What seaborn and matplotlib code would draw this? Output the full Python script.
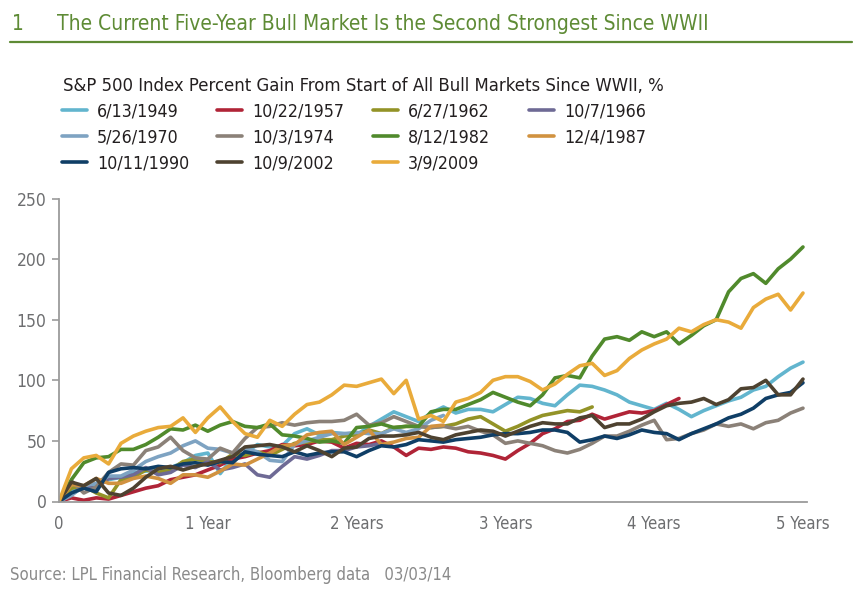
import numpy as np
import pandas as pd
import matplotlib
matplotlib.use("Agg")
import matplotlib.pyplot as plt
import seaborn as sns

# ---------------- data (percent gain, sampled monthly from start of each bull market) -------------
labels = ["6/13/1949", "10/22/1957", "6/27/1962", "10/7/1966", "5/26/1970", "10/3/1974",
          "8/12/1982", "12/4/1987", "10/11/1990", "10/9/2002", "3/9/2009"]
colors = ["#62B5CE", "#B02437", "#939327", "#6E6A95", "#7EA3C2", "#8B8178",
          "#508A2C", "#D19240", "#0F3E66", "#4E4230", "#E9AB3B"]

bull_1949 = [0, 9, 12, 14, 18, 20, 24, 25, 27, 28, 32, 38, 40, 23, 36, 40, 47, 45, 46, 56,
             60, 55, 57, 56, 55, 62, 68, 74, 70, 66, 73, 78, 73, 76, 76, 74, 80, 86, 85, 81,
             79, 88, 96, 95, 92, 88, 82, 79, 76, 81, 76, 70, 75, 79, 83, 86, 92, 95, 103, 110, 115]
bull_1957 = [0, 3, 1, 3, 2, 5, 8, 11, 13, 18, 20, 22, 26, 30, 35, 37, 40, 42, 47, 46,
             47, 50, 49, 44, 48, 47, 50, 45, 38, 44, 43, 45, 44, 41, 40, 38, 35, 42, 48, 56,
             60, 66, 67, 72, 68, 71, 74, 73, 75, 80, 85]
bull_1962 = [0, 11, 13, 7, 3, 18, 20, 26, 24, 26, 33, 35, 33, 32, 39, 38, 41, 38, 43, 48,
             49, 51, 51, 54, 55, 59, 56, 61, 62, 62, 61, 62, 64, 68, 70, 64, 58, 62, 67, 71,
             73, 75, 74, 78]
bull_1966 = [0, 6, 12, 11, 19, 20, 22, 28, 22, 24, 30, 28, 33, 26, 28, 31, 22, 20, 29, 37,
             35, 38, 42, 42, 45, 46, 48]
bull_1970 = [0, 5, 13, 15, 21, 21, 26, 33, 37, 40, 46, 50, 44, 43, 40, 44, 41, 34, 33, 47,
             50, 53, 56, 56, 57, 56, 56, 60, 57, 60, 67, 71]
bull_1974 = [0, 17, 7, 12, 24, 31, 30, 42, 45, 53, 42, 36, 35, 44, 40, 52, 61, 62, 65, 63,
             65, 66, 66, 67, 72, 63, 65, 70, 66, 62, 61, 62, 60, 62, 58, 55, 48, 50, 48, 46,
             42, 40, 43, 48, 54, 54, 58, 63, 67, 51, 52, 56, 59, 64, 62, 64, 60, 65, 67, 73, 77]
bull_1982 = [0, 18, 32, 36, 37, 43, 43, 47, 53, 60, 59, 63, 58, 63, 66, 62, 61, 64, 55, 54,
             52, 49, 50, 48, 61, 62, 64, 61, 62, 62, 74, 76, 76, 80, 84, 90, 86, 82, 79, 88,
             102, 104, 102, 120, 134, 136, 133, 140, 136, 140, 130, 137, 145, 150, 173, 184,
             188, 180, 192, 200, 210]
bull_1987 = [0, 14, 13, 19, 15, 15, 19, 21, 19, 15, 22, 22, 20, 25, 31, 30, 35, 40, 46, 47,
             55, 57, 58, 47, 53, 59, 47, 49, 52, 53, 62, 63]
bull_1990 = [0, 7, 11, 8, 24, 27, 28, 27, 29, 28, 31, 32, 30, 33, 32, 41, 39, 38, 37, 41,
             38, 40, 41, 41, 37, 42, 46, 45, 47, 51, 50, 49, 51, 52, 53, 55, 56, 56, 57, 59,
             59, 57, 49, 51, 54, 52, 55, 59, 57, 56, 51, 56, 60, 64, 69, 72, 77, 85, 88, 90, 98]
bull_2002 = [0, 16, 13, 19, 7, 5, 11, 20, 27, 29, 26, 29, 31, 34, 37, 45, 46, 47, 45, 41,
             46, 42, 37, 44, 45, 52, 54, 54, 55, 57, 53, 51, 55, 57, 59, 58, 54, 58, 62, 65,
             64, 64, 69, 71, 61, 64, 64, 68, 74, 79, 81, 82, 85, 80, 84, 93, 94, 100, 88, 88, 101]
bull_2009 = [0, 27, 36, 38, 31, 48, 54, 58, 61, 62, 69, 57, 69, 78, 66, 56, 53, 67, 62, 72,
             80, 82, 88, 96, 95, 98, 101, 89, 100, 68, 71, 66, 82, 85, 90, 100, 103, 103, 99, 92,
             97, 105, 112, 114, 104, 108, 118, 125, 130, 134, 143, 140, 146, 150, 148, 143, 160,
             167, 171, 158, 172]

series_values = [bull_1949, bull_1957, bull_1962, bull_1966, bull_1970, bull_1974,
                 bull_1982, bull_1987, bull_1990, bull_2002, bull_2009]

y_ticks = [0, 50, 100, 150, 200, 250]
x_ticks = [0, 1, 2, 3, 4, 5]
x_tick_labels = ["0", "1 Year", "2 Years", "3 Years", "4 Years", "5 Years"]

title_text = "The Current Five-Year Bull Market Is the Second Strongest Since WWII"
subtitle_text = "S&P 500 Index Percent Gain From Start of All Bull Markets Since WWII, %"
source_text = "Source: LPL Financial Research, Bloomberg data   03/03/14"

# ---------------- long table ----------------
rows = []
for lab, vals in zip(labels, series_values):
    for m, v in enumerate(vals):
        rows.append({"series": lab, "years": m / 12.0, "gain": v})
df = pd.DataFrame(rows)

# ---------------- style ----------------
sns.set_style("white")
plt.rcParams["font.family"] = ["DejaVu Sans"]
plt.rcParams["font.stretch"] = "condensed"

W, H = 854, 597
fig = plt.figure(figsize=(W / 100, H / 100), dpi=100)
fig.patch.set_facecolor("white")

ax = fig.add_axes([59 / W, 1 - 501.5 / H, (807 - 59) / W, (501.5 - 198.5) / H])

sns.lineplot(data=df, x="years", y="gain", hue="series", hue_order=labels,
             palette=dict(zip(labels, colors)), linewidth=2.6, estimator=None,
             errorbar=None, sort=True, ax=ax, legend=True)

handles, labs = ax.get_legend_handles_labels()
ax.get_legend().remove()
hmap = dict(zip(labs, handles))

ax.set_xlim(0, 5.027)
ax.set_ylim(0, 250)
ax.set_xticks(x_ticks)
ax.set_xticklabels(x_tick_labels)
ax.set_yticks(y_ticks)
ax.set_xlabel("")
ax.set_ylabel("")

axis_gray = "#9B9B9B"
label_gray = "#6D6E70"
for side in ["top", "right"]:
    ax.spines[side].set_visible(False)
for side in ["left", "bottom"]:
    ax.spines[side].set_color(axis_gray)
    ax.spines[side].set_linewidth(1.3)
ax.tick_params(axis="y", length=5, width=1.2, color=axis_gray, labelcolor=label_gray,
               labelsize=12.5, pad=4, direction="out", left=True)
ax.tick_params(axis="x", length=0, labelcolor=label_gray, labelsize=12, pad=10)
ax.grid(False)

# ---------------- titles ----------------
olive = "#5E8B35"
fig.text(12 / W, 1 - 24 / H, "1", color=olive, fontsize=15, va="center", ha="left")
fig.text(57 / W, 1 - 24 / H, title_text, color=olive, fontsize=15, va="center", ha="left")
fig.add_artist(plt.Line2D([10 / W, 852 / W], [1 - 42 / H, 1 - 42 / H], color=olive,
                          linewidth=1.6, transform=fig.transFigure))
fig.text(63 / W, 1 - 86 / H, subtitle_text, color="#231F20", fontsize=13.2,
         va="center", ha="left")
fig.text(10 / W, 1 - 575 / H, source_text, color="#8A8A8A", fontsize=12,
         va="center", ha="left")

# ---------------- legend: four columns, filled row by row ----------------
ncol = 4
col_x = [62, 217, 373, 529]
row_y = [111.7, 137.7, 163.7]
for c in range(ncol):
    col_labels = labels[c::ncol]
    nrows = len(col_labels)
    yc = (row_y[0] + row_y[nrows - 1]) / 2
    leg = fig.legend([hmap[l] for l in col_labels], col_labels, loc="center left",
                     bbox_to_anchor=(col_x[c] / W, 1 - yc / H), frameon=False,
                     fontsize=12.8, handlelength=1.4, handletextpad=0.56,
                     labelspacing=0.45, borderpad=0, borderaxespad=0)
    for t in leg.get_texts():
        t.set_color("#231F20")
    for h in leg.legend_handles:
        h.set_linewidth(2.6)

fig.savefig("out.png", dpi=100, facecolor="white")
